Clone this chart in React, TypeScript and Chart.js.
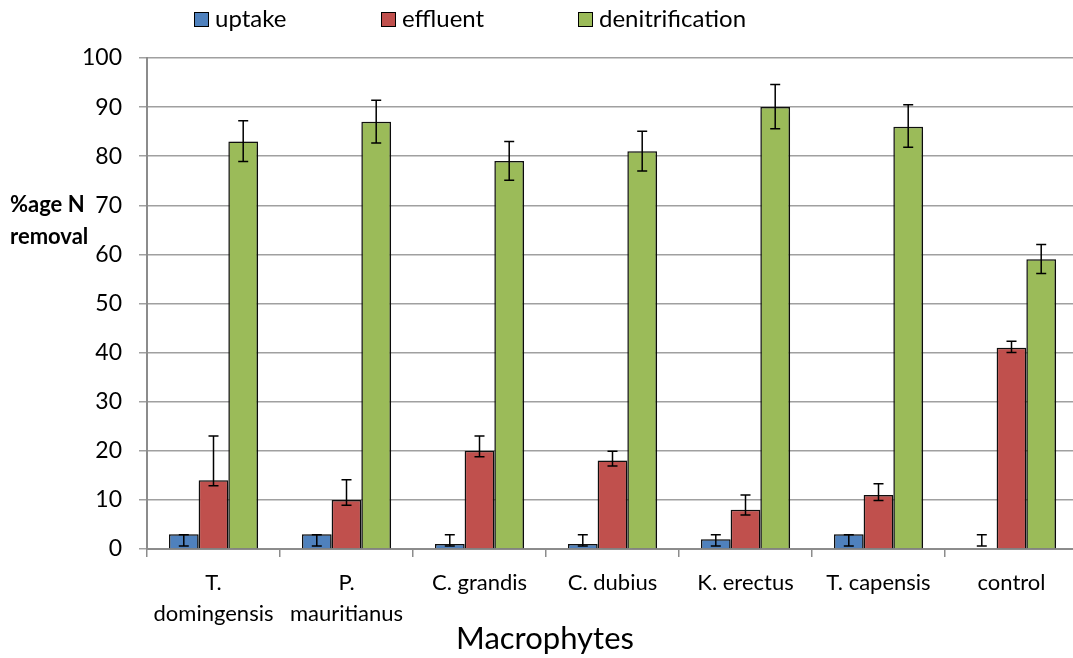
import React, { useEffect, useRef } from "react";
import { Chart, registerables } from "chart.js";

Chart.register(...registerables);

const categories: string[][] = [
  ["T.", "domingensis"],
  ["P.", "mauritianus"],
  ["C. grandis"],
  ["C. dubius"],
  ["K. erectus"],
  ["T. capensis"],
  ["control"],
];

const seriesNames = ["uptake", "effluent", "denitrification"];
const seriesColors = ["#4F81BD", "#C0504D", "#9BBB59"];

const uptake = [3, 3, 1, 1, 2, 3, 0];
const effluent = [14, 10, 20, 18, 8, 11, 41];
const denitrification = [83, 87, 79, 81, 90, 86, 59];

// error bar extents (low, high)
const uptakeLow = [0.6, 0.6, 0.6, 0.6, 0.6, 0.6, 0.6];
const uptakeHigh = [2.9, 2.9, 2.9, 2.9, 2.9, 2.9, 2.9];
const effluentLow = [12.9, 8.9, 18.8, 16.9, 6.9, 9.9, 40];
const effluentHigh = [23, 14.1, 23, 19.9, 11, 13.3, 42.3];
const denitLow = [78.9, 82.7, 75.1, 77, 85.6, 81.8, 56.1];
const denitHigh = [87.2, 91.4, 83, 85.1, 94.6, 90.5, 62];

const yTicks = [0, 10, 20, 30, 40, 50, 60, 70, 80, 90, 100];

const FONT = "Lato, 'Open Sans', sans-serif";

export default function App() {
  const ref = useRef<HTMLCanvasElement | null>(null);

  useEffect(() => {
    if (!ref.current) return;
    const lows = [uptakeLow, effluentLow, denitLow];
    const highs = [uptakeHigh, effluentHigh, denitHigh];

    const shadowPlugin = {
      id: "barShadow",
      beforeDatasetsDraw(chart: any) {
        const ctx = chart.ctx;
        ctx.save();
        ctx.shadowColor = "rgba(0,0,0,0.45)";
        ctx.shadowBlur = 6;
        ctx.shadowOffsetX = 2;
        ctx.shadowOffsetY = 2;
      },
      afterDatasetsDraw(chart: any) {
        chart.ctx.restore();
      },
    };

    const errorPlugin = {
      id: "errorBars",
      afterDatasetsDraw(chart: any) {
        const ctx = chart.ctx;
        const y = chart.scales.y;
        ctx.save();
        ctx.strokeStyle = "#000";
        ctx.lineWidth = 1.5;
        chart.data.datasets.forEach((_: any, di: number) => {
          const meta = chart.getDatasetMeta(di);
          meta.data.forEach((bar: any, i: number) => {
            const x = bar.x;
            const y1 = y.getPixelForValue(lows[di][i]);
            const y2 = y.getPixelForValue(highs[di][i]);
            ctx.beginPath();
            ctx.moveTo(x, y1);
            ctx.lineTo(x, y2);
            ctx.moveTo(x - 5, y1);
            ctx.lineTo(x + 5, y1);
            ctx.moveTo(x - 5, y2);
            ctx.lineTo(x + 5, y2);
            ctx.stroke();
          });
        });
        ctx.restore();
      },
    };

    const extrasPlugin = {
      id: "extras",
      afterDraw(chart: any) {
        const ctx = chart.ctx;
        ctx.save();
        // y axis title
        ctx.fillStyle = "#000";
        ctx.font = `bold 22px ${FONT}`;
        ctx.textAlign = "left";
        ctx.textBaseline = "middle";
        ctx.fillText("%age N", 10, 205);
        ctx.fillText("removal", 10, 237);
        // x axis title
        ctx.font = `31px ${FONT}`;
        ctx.textAlign = "center";
        ctx.fillText("Macrophytes", 545, 639);
        // legend
        const starts = [194, 381, 578];
        ctx.font = `24px ${FONT}`;
        ctx.textAlign = "left";
        seriesNames.forEach((n, i) => {
          const x = starts[i];
          ctx.fillStyle = seriesColors[i];
          ctx.fillRect(x, 12, 14, 14);
          ctx.strokeStyle = "#000";
          ctx.lineWidth = 1;
          ctx.strokeRect(x + 0.5, 12.5, 14, 14);
          ctx.fillStyle = "#000";
          ctx.fillText(n, x + 21, 19);
        });
        ctx.restore();
      },
    };

    const chart = new Chart(ref.current, {
      type: "bar",
      data: {
        labels: categories,
        datasets: [uptake, effluent, denitrification].map((d, i) => ({
          label: seriesNames[i],
          data: d,
          backgroundColor: seriesColors[i],
          borderColor: "#111",
          borderWidth: 1.5,
          categoryPercentage: 0.67,
          barPercentage: 1.0,
        })),
      },
      options: {
        animation: false,
        responsive: false,
        maintainAspectRatio: false,
        layout: { padding: { top: 58, right: 7, left: 0, bottom: 0 } },
        plugins: {
          legend: { display: false },
          tooltip: { enabled: false },
        },
        scales: {
          x: {
            afterFit(scale: any) {
              scale.height = 109;
            },
            grid: {
              offset: true,
              drawOnChartArea: false,
              color: "#8c8c8c",
              lineWidth: 1.5,
              tickLength: 8,
            },
            border: { color: "#8c8c8c", width: 2 },
            ticks: {
              color: "#000",
              font: { family: FONT, size: 22, lineHeight: 1.41 },
              maxRotation: 0,
              autoSkip: false,
              padding: 10,
            },
          },
          y: {
            min: 0,
            max: 100,
            afterFit(scale: any) {
              scale.width = 147;
            },
            afterBuildTicks(scale: any) {
              scale.ticks = yTicks.map((v) => ({ value: v }));
            },
            grid: {
              color: "#a0a0a0",
              lineWidth: 1.5,
              tickLength: 8,
            },
            border: { color: "#8c8c8c", width: 2 },
            ticks: {
              color: "#000",
              font: { family: FONT, size: 23 },
              padding: 17,
            },
          },
        },
      },
      plugins: [shadowPlugin, errorPlugin, extrasPlugin],
    } as any);
    return () => chart.destroy();
  }, []);

  return (
    <div
      style={{
        position: "fixed",
        left: 0,
        top: 0,
        width: 1073,
        height: 658,
        overflow: "hidden",
        background: "#fff",
      }}
    >
      <canvas ref={ref} width={1085} height={658} style={{ display: "block" }} />
    </div>
  );
}
